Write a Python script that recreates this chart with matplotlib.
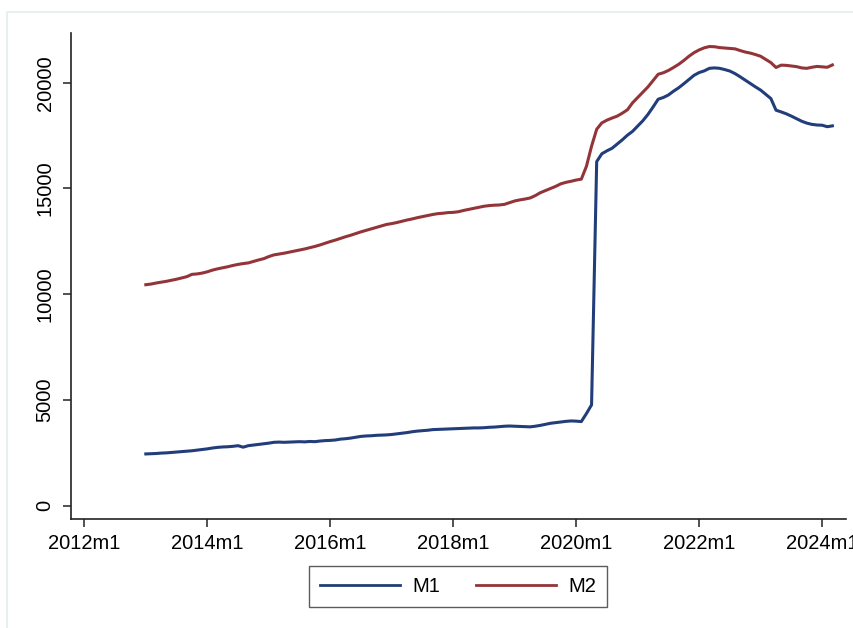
import numpy as np
import matplotlib
matplotlib.use("Agg")
import matplotlib.pyplot as plt
from matplotlib.patches import Rectangle

plt.rcParams['font.family'] = ['Liberation Sans', 'DejaVu Sans']

# monthly data, 2013m1 .. 2024m3 (billions of dollars)
m1 = [
    2450, 2460, 2470, 2490, 2500, 2520, 2540, 2560, 2580, 2600, 2630, 2660,   # 2013
    2690, 2730, 2760, 2780, 2790, 2810, 2840, 2770, 2840, 2870, 2900, 2930,   # 2014
    2960, 3000, 3010, 3000, 3010, 3020, 3030, 3020, 3040, 3030, 3060, 3080,   # 2015
    3090, 3110, 3150, 3170, 3200, 3240, 3280, 3300, 3310, 3330, 3340, 3350,   # 2016
    3370, 3400, 3430, 3460, 3500, 3530, 3550, 3570, 3600, 3610, 3620, 3630,   # 2017
    3640, 3650, 3660, 3670, 3680, 3680, 3690, 3710, 3720, 3740, 3760, 3770,   # 2018
    3760, 3750, 3740, 3730, 3760, 3800, 3850, 3900, 3930, 3960, 3990, 4010,   # 2019
    4000, 3980, 4360, 4770, 16270, 16640, 16780, 16900, 17100, 17300, 17520, 17700,  # 2020
    17950, 18200, 18500, 18850, 19220, 19300, 19420, 19600, 19760, 19950, 20150, 20350,  # 2021
    20480, 20560, 20680, 20700, 20680, 20620, 20550, 20430, 20280, 20120, 19960, 19800,  # 2022
    19650, 19450, 19250, 18700, 18620, 18530, 18420, 18300, 18180, 18090, 18030, 18000,  # 2023
    17990, 17920, 17960,                                                      # 2024
]
m2 = [
    10450, 10480, 10530, 10570, 10610, 10660, 10710, 10770, 10830, 10940, 10960, 11000,  # 2013
    11060, 11140, 11200, 11250, 11300, 11360, 11410, 11450, 11480, 11550, 11620, 11680,  # 2014
    11780, 11860, 11900, 11940, 11990, 12040, 12090, 12140, 12200, 12260, 12330, 12410,  # 2015
    12490, 12560, 12640, 12720, 12790, 12870, 12950, 13020, 13090, 13160, 13230, 13300,  # 2016
    13340, 13390, 13450, 13510, 13560, 13620, 13670, 13720, 13770, 13810, 13830, 13860,  # 2017
    13870, 13900, 13960, 14010, 14060, 14110, 14160, 14190, 14210, 14220, 14250, 14330,  # 2018
    14410, 14460, 14500, 14550, 14660, 14800, 14900, 15000, 15100, 15220, 15290, 15340,  # 2019
    15400, 15440, 16050, 17000, 17800, 18100, 18230, 18330, 18420, 18560, 18720, 19050,  # 2020
    19300, 19550, 19800, 20100, 20400, 20470, 20580, 20720, 20870, 21050, 21250, 21420,  # 2021
    21550, 21650, 21710, 21700, 21660, 21640, 21620, 21600, 21520, 21450, 21400, 21330,  # 2022
    21250, 21100, 20950, 20720, 20830, 20820, 20790, 20760, 20700, 20680, 20730, 20770,  # 2023
    20750, 20730, 20840,                                                      # 2024
]
start_month = 12          # months since 2012m1
months = np.arange(start_month, start_month + len(m1))

xtick_labels = ['2012m1', '2014m1', '2016m1', '2018m1', '2020m1', '2022m1', '2024m1']
ytick_vals = [0, 5000, 10000, 15000, 20000]

navy = '#213d7a'
maroon = '#933439'

fig = plt.figure(figsize=(8.54, 6.28), dpi=100)
ax = fig.add_axes([71 / 854, 1 - 519.3 / 628, (845.7 - 71) / 854, (519.3 - 33) / 628])

ax.plot(months, m1, color=navy, lw=2.2, label='M1')
ax.plot(months, m2, color=maroon, lw=2.2, label='M2')

ax.set_xlim(-2.6, 148.6)
ax.set_ylim(-640, 22350)
ax.set_xticks(np.arange(0, 24 * len(xtick_labels), 24))
ax.set_xticklabels(xtick_labels)
ax.set_yticks(ytick_vals)
ax.set_yticklabels([str(v) for v in ytick_vals], rotation=90, va='center')

for s in ['top', 'right']:
    ax.spines[s].set_visible(False)
for s in ['left', 'bottom']:
    ax.spines[s].set_linewidth(1.2)
    ax.spines[s].set_color('#222222')
ax.tick_params(axis='both', length=5.8, width=1.1, color='#222222', labelsize=14.5)
ax.tick_params(axis='y', pad=6)
ax.tick_params(axis='x', pad=4.5)

leg = ax.legend(loc='center', bbox_to_anchor=(458 / 854, 41.5 / 628),
                bbox_transform=fig.transFigure, ncol=2, frameon=True, fancybox=False,
                fontsize=14.5, handlelength=4.0, handletextpad=0.6, columnspacing=1.75,
                borderpad=0.55, borderaxespad=0)
leg.get_frame().set_edgecolor('#333333')
leg.get_frame().set_linewidth(1.0)
for line in leg.get_lines():
    line.set_linewidth(2.0)

# faint frame of the graph region
fig.patches.append(Rectangle((7 / 854, -0.1), 1.2, 1 - 12 / 628 + 0.1, transform=fig.transFigure,
                             fill=False, edgecolor='#e4ecee', lw=1.2))

fig.savefig('out.png', dpi=100)
